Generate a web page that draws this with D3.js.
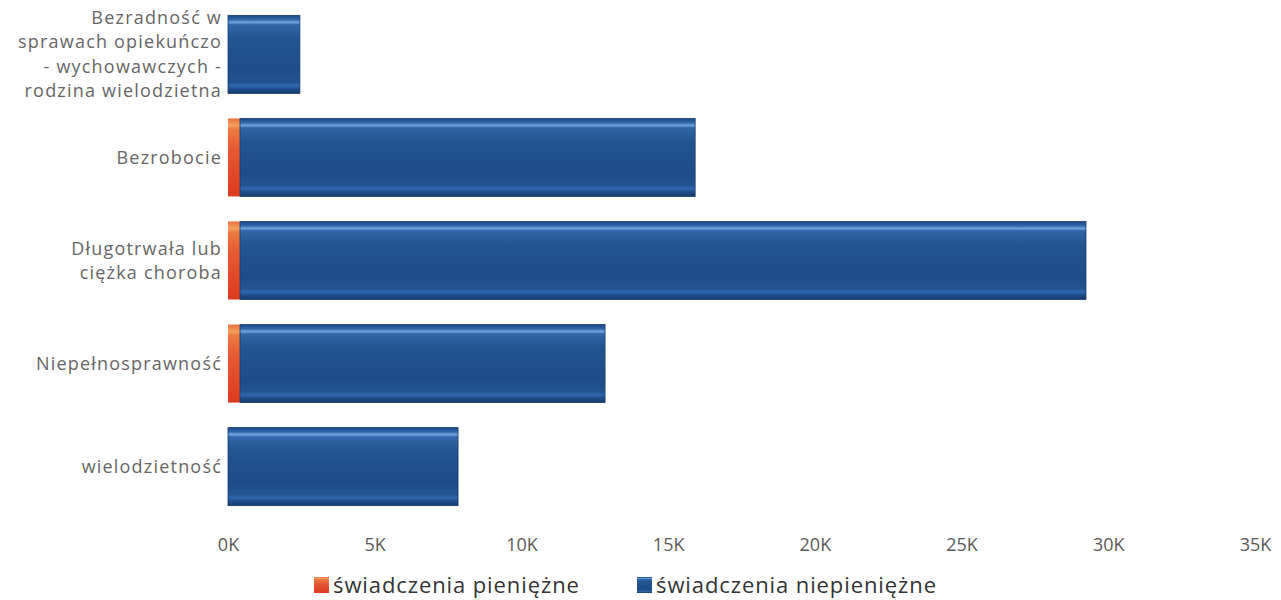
<!DOCTYPE html>
<html>
<head>
<meta charset="utf-8">
<script src="https://cdn.jsdelivr.net/npm/d3@7"></script>
<style>
  body { margin: 0; background: #fff; }
  text { font-family: "Open Sans", sans-serif; }
</style>
</head>
<body>
<div id="graph"></div>
<script>
// data (counts)
var categories = [
  "Bezradność w\nsprawach opiekuńczo\n- wychowawczych -\nrodzina wielodzietna",
  "Bezrobocie",
  "Długotrwała lub\nciężka choroba",
  "Niepełnosprawność",
  "wielodzietność"
];
var cashValues = [0, 410, 410, 410, 0]; // świadczenia pieniężne
var nonCashValues = [2450, 15510, 28830, 12440, 7840]; // świadczenia niepieniężne
var seriesNames = ["świadczenia pieniężne", "świadczenia niepieniężne"];
var xTicks = [0, 5000, 10000, 15000, 20000, 25000, 30000, 35000];

var frameWidth = 1281,
  frameHeight = 600;

var svg = d3
  .select("#graph")
  .append("svg")
  .attr("width", frameWidth)
  .attr("height", frameHeight);

var xScale = d3.scaleLinear().domain([0, 35000]).range([228, 1255]);
var yScale = d3.scaleBand().domain(categories).range([3, 518]).paddingInner(0.243).paddingOuter(0.12);

// gradients to mimic the shaded bars
var defs = svg.append("defs");
function addGrad(id, stops) {
  var g = defs.append("linearGradient").attr("id", id)
    .attr("x1", 0).attr("y1", 0).attr("x2", 0).attr("y2", 1);
  stops.forEach(function (s) {
    g.append("stop").attr("offset", s[0]).attr("stop-color", s[1]);
  });
}
addGrad("blueGrad", [
  ["0%", "#1d4a86"], ["5%", "#2b63a6"], ["9%", "#6ea4dc"], ["12%", "#2f67aa"],
  ["30%", "#22558f"], ["70%", "#1e4c88"], ["86%", "#22548f"], ["90%", "#2f68ad"],
  ["94%", "#1f4f8c"], ["100%", "#163a6c"]
]);
addGrad("redGrad", [
  ["0%", "#e8703a"], ["9%", "#f5a060"], ["14%", "#ea7a40"], ["40%", "#e55a33"],
  ["100%", "#dd3a22"]
]);

var rows = categories.map(function (c, i) {
  return { cat: c, cash: cashValues[i], nonCash: nonCashValues[i] };
});

// cash part
svg.append("g").selectAll("rect")
  .data(rows)
  .enter()
  .append("rect")
  .attr("x", xScale(0))
  .attr("y", function (d) { return yScale(d.cat); })
  .attr("width", function (d) { return xScale(d.cash) - xScale(0); })
  .attr("height", yScale.bandwidth())
  .attr("fill", "url(#redGrad)");

// non-cash part, stacked after cash
svg.append("g").selectAll("rect")
  .data(rows)
  .enter()
  .append("rect")
  .attr("x", function (d) { return xScale(d.cash); })
  .attr("y", function (d) { return yScale(d.cat); })
  .attr("width", function (d) { return xScale(d.cash + d.nonCash) - xScale(d.cash); })
  .attr("height", yScale.bandwidth())
  .attr("fill", "url(#blueGrad)")
  .attr("stroke", "#17396a")
  .attr("stroke-width", 0.8);

// category labels (multi-line)
var labels = svg.append("g").selectAll("text")
  .data(categories)
  .enter()
  .append("text")
  .attr("text-anchor", "end")
  .attr("font-size", 18)
  .attr("letter-spacing", 1.2)
  .attr("fill", "#666");
labels.each(function (d) {
  var lines = d.split("\n");
  var lh = 24.5;
  var cy = yScale(d) + yScale.bandwidth() / 2;
  var startY = cy - ((lines.length - 1) * lh) / 2;
  var t = d3.select(this);
  lines.forEach(function (ln, i) {
    t.append("tspan")
      .attr("x", 222)
      .attr("y", startY + i * lh)
      .attr("dy", "0.35em")
      .text(ln);
  });
});

// x axis labels
var xAxis = svg.append("g")
  .attr("transform", "translate(0,545)")
  .call(d3.axisBottom(xScale).tickValues(xTicks).tickSize(0).tickFormat(function (d) {
    return d / 1000 + "K";
  }));
xAxis.select(".domain").remove();
xAxis.selectAll("text")
  .attr("y", 0)
  .attr("dy", "0.35em")
  .attr("font-family", "Open Sans, sans-serif")
  .attr("font-size", 18)
  .attr("fill", "#5a5a5a");

// legend
var legendX = [314, 637];
var legendColors = ["url(#redGrad)", "url(#blueGrad)"];
var legend = svg.append("g").attr("class", "colorLegend")
  .selectAll("g")
  .data(seriesNames)
  .enter()
  .append("g")
  .attr("transform", function (d, i) { return "translate(" + legendX[i] + ",585)"; });
legend.append("rect")
  .attr("x", 0)
  .attr("y", -8)
  .attr("width", 15)
  .attr("height", 16)
  .attr("fill", function (d, i) { return legendColors[i]; });
legend.append("text")
  .attr("x", 19)
  .attr("dy", "0.35em")
  .attr("font-size", 22)
  .attr("letter-spacing", 0.9)
  .attr("fill", "#333")
  .text(function (d) { return d; });
</script>
</body>
</html>
